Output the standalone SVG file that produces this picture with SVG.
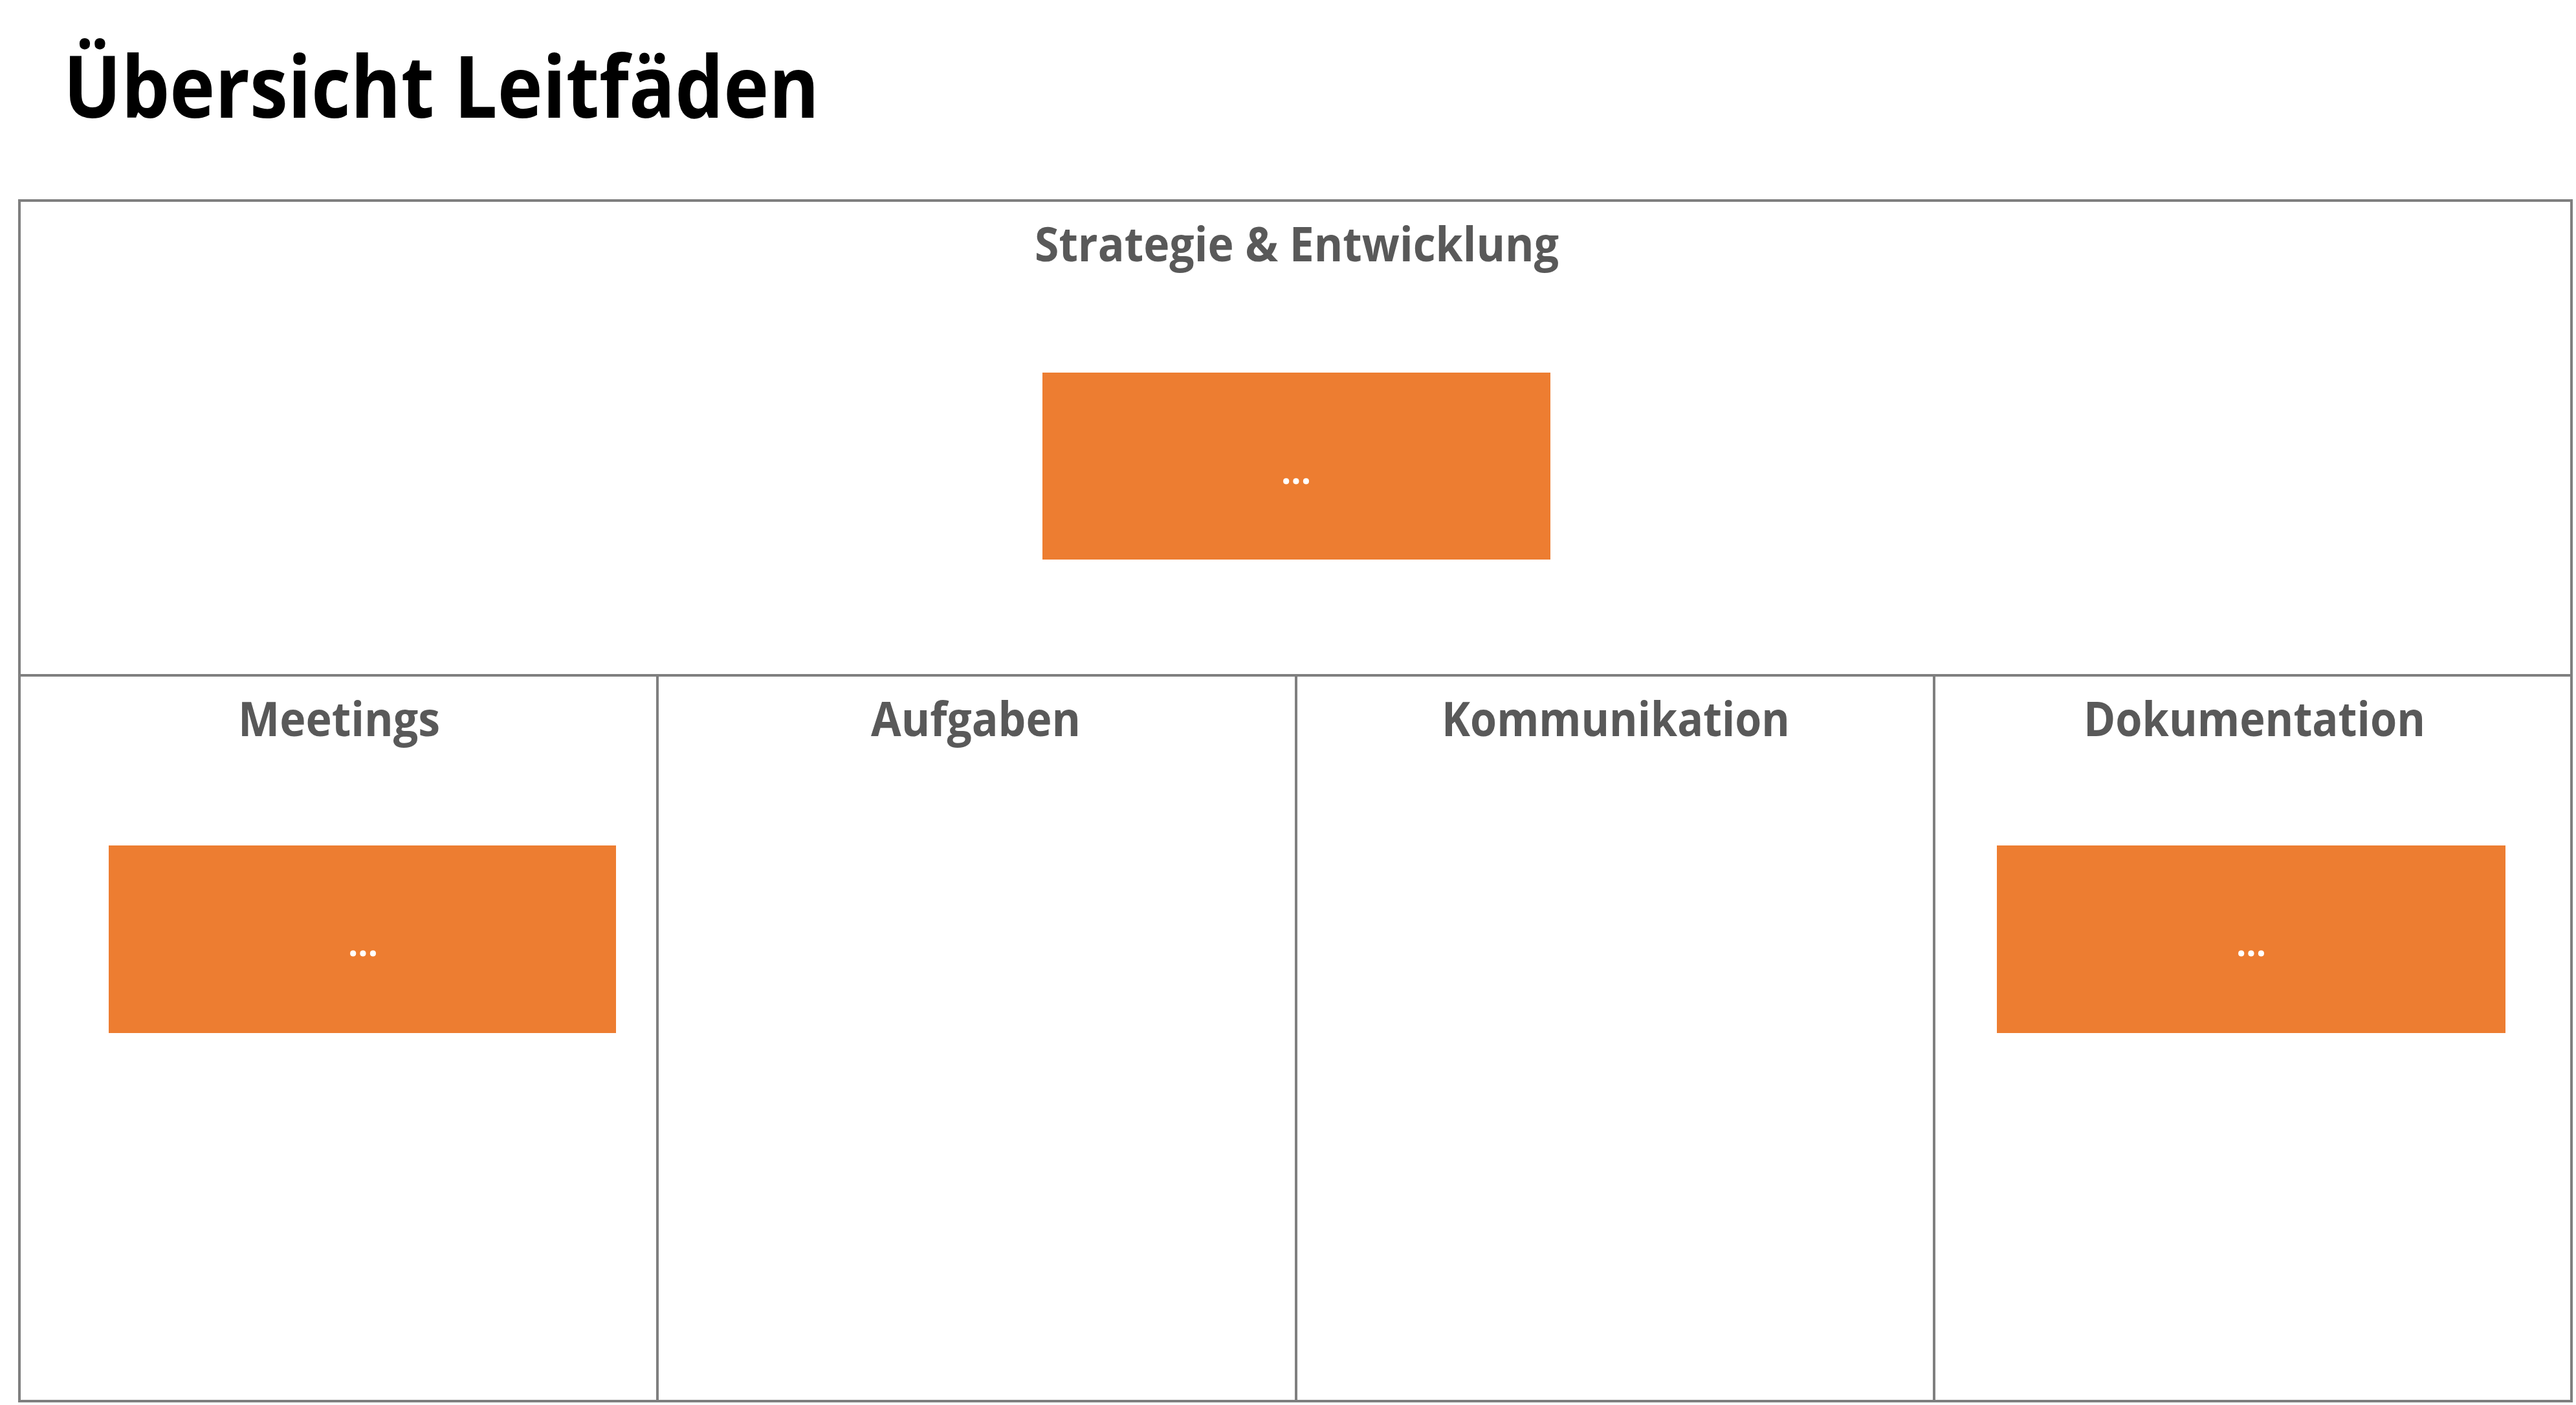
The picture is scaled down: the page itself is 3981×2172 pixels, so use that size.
<svg xmlns="http://www.w3.org/2000/svg" width="3981" height="2172" viewBox="0 0 3981 2172">
  <style>
    .frame { fill: none; stroke: #7F7F7F; stroke-width: 4; }
    .title { font-family: "Open Sans", "Liberation Sans", sans-serif; font-weight: 700; font-size: 132px; fill: #000000; }
    .label { font-family: "Open Sans", "Liberation Sans", sans-serif; font-weight: 700; font-size: 73px; fill: #595959; }
    .box { fill: #ED7D31; }
    .dots { font-family: "Open Sans", "Liberation Sans", sans-serif; font-weight: 700; font-size: 56px; fill: #FFFFFF; }
  </style>
  <rect x="0" y="0" width="3981" height="2172" fill="#FFFFFF"/>

  <g id="title">
    <text class="title" x="98" y="182" textLength="1168" lengthAdjust="spacingAndGlyphs">Übersicht Leitfäden</text>
  </g>

  <g id="frame">
    <rect class="frame" x="30" y="310" width="3944" height="1856"/>
    <line class="frame" x1="30" y1="1044" x2="3974" y2="1044"/>
    <line class="frame" x1="1016" y1="1044" x2="1016" y2="2166"/>
    <line class="frame" x1="2003" y1="1044" x2="2003" y2="2166"/>
    <line class="frame" x1="2989" y1="1044" x2="2989" y2="2166"/>
  </g>

  <g id="section-strategie">
    <text class="label" x="1599" y="404" textLength="810" lengthAdjust="spacingAndGlyphs">Strategie &amp; Entwicklung</text>
  </g>
  <g id="section-meetings">
    <text class="label" x="368" y="1138" textLength="312" lengthAdjust="spacingAndGlyphs">Meetings</text>
  </g>
  <g id="section-aufgaben">
    <text class="label" x="1346" y="1138" textLength="324" lengthAdjust="spacingAndGlyphs">Aufgaben</text>
  </g>
  <g id="section-kommunikation">
    <text class="label" x="2228" y="1138" textLength="538" lengthAdjust="spacingAndGlyphs">Kommunikation</text>
  </g>
  <g id="section-dokumentation">
    <text class="label" x="3220" y="1138" textLength="528" lengthAdjust="spacingAndGlyphs">Dokumentation</text>
  </g>

  <g id="box-strategie">
    <rect class="box" x="1611" y="576" width="785" height="289"/>
    <text class="dots" x="1980" y="748" textLength="46" lengthAdjust="spacingAndGlyphs">...</text>
  </g>
  <g id="box-meetings">
    <rect class="box" x="168" y="1307" width="784" height="290"/>
    <text class="dots" x="538" y="1478" textLength="46" lengthAdjust="spacingAndGlyphs">...</text>
  </g>
  <g id="box-dokumentation">
    <rect class="box" x="3086" y="1307" width="786" height="290"/>
    <text class="dots" x="3456" y="1478" textLength="46" lengthAdjust="spacingAndGlyphs">...</text>
  </g>

  <g id="connectors"></g>
</svg>
